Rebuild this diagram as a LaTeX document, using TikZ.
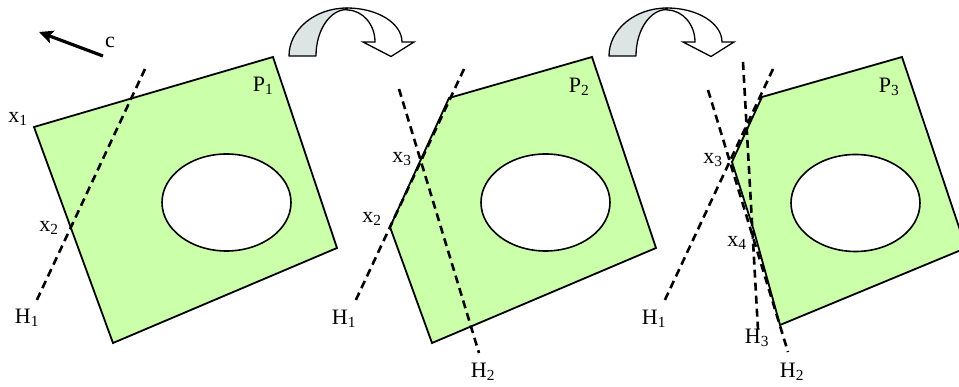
\documentclass[tikz,border=0pt]{standalone}
\usepackage{fontspec}
\setmainfont{Liberation Serif}
\usetikzlibrary{arrows.meta}
\definecolor{polyfill}{RGB}{204,255,170}
\definecolor{arrowgray}{RGB}{221,228,228}
\tikzset{
  poly/.style={draw=black, fill=polyfill, line width=1.8pt, line join=miter},
  hole/.style={draw=black, fill=white, line width=1.6pt},
  hyper/.style={draw=black, line width=2.6pt, dash pattern=on 8pt off 5pt},
  lbl/.style={inner sep=0pt, font=\fontsize{22}{24}\selectfont},
  bandback/.style={draw=black, fill=arrowgray, line width=1.3pt, line join=round},
  bandfront/.style={draw=black, fill=white, line width=1.3pt, line join=miter},
}
\begin{document}
\begin{tikzpicture}[x=1pt,y=-1pt]
\useasboundingbox (0,0) rectangle (959,387);

% curved arrows
\foreach \dx in {0,320}{
  \begin{scope}[xshift=\dx]
    \path[bandback] (289,56) arc[start angle=180,end angle=270,x radius=58,y radius=48]
      -- (347,9.5) arc[start angle=270,end angle=180,x radius=31,y radius=46.5] -- cycle;
    \path[bandfront] (347,8) arc[start angle=270,end angle=360,x radius=55,y radius=34]
      -- (414,42) -- (391,56.5) -- (363,42) -- (375,42)
      arc[start angle=360,end angle=270,x radius=28,y radius=32] -- cycle;
  \end{scope}
}

% objective direction c
\coordinate (ctail) at (103,56);
\coordinate (ctip) at (39,32);
\draw[line width=3.2pt, -{Stealth[length=14pt,width=13pt,inset=3pt]}] (ctail) -- (ctip);
\node[lbl] (lc) at (110,42) {c};

% ---------- P1 ----------
\path[poly] (34,127) -- (273,57) -- (337,248) -- (113,343) -- cycle;
\path[hole] (226.5,202.5) ellipse[x radius=64.5, y radius=48.5];
\coordinate (h1a) at (145,69); \coordinate (h1b) at (35,304);
\draw[hyper] (h1a) -- (h1b);
\node[lbl] (lx1) at (18,119) {x\textsubscript{1}};
\node[lbl] (lx2a) at (49,228) {x\textsubscript{2}};
\node[lbl] (lh1a) at (27,318) {H\textsubscript{1}};
\node[lbl] (lp1) at (263,86) {P\textsubscript{1}};

% ---------- P2 ----------
\path[poly] (390,227) -- (449,98) -- (592,57) -- (656,248) -- (432,343) -- cycle;
\path[hole] (545.5,202.5) ellipse[x radius=64.5, y radius=48.5];
\coordinate (h1c) at (464,69); \coordinate (h1d) at (354,304);
\coordinate (h2a) at (399,89); \coordinate (h2b) at (479,353);
\draw[hyper] (h1c) -- (h1d);
\draw[hyper] (h2a) -- (h2b);
\node[lbl] (lx3b) at (402,159) {x\textsubscript{3}};
\node[lbl] (lx2b) at (372,219) {x\textsubscript{2}};
\node[lbl] (lh1b) at (344,319) {H\textsubscript{1}};
\node[lbl] (lh2b) at (483,372) {H\textsubscript{2}};
\node[lbl] (lp2) at (579,87) {P\textsubscript{2}};

% ---------- P3 ----------
\path[poly] (732,162) -- (762,97) -- (902,57) -- (966,248) -- (780,325) -- (754,231) -- cycle;
\path[hole] (855.5,203) ellipse[x radius=64.5, y radius=48.5];
\coordinate (h1e) at (773,69); \coordinate (h1f) at (663,304);
\coordinate (h2c) at (708,90); \coordinate (h2d) at (788,352);
\coordinate (h3a) at (743,62); \coordinate (h3b) at (758,330);
\draw[hyper] (h1e) -- (h1f);
\draw[hyper] (h2c) -- (h2d);
\draw[hyper] (h3a) -- (h3b);
\node[lbl] (lx3c) at (713,160) {x\textsubscript{3}};
\node[lbl] (lx4) at (737,243) {x\textsubscript{4}};
\node[lbl] (lh1c) at (654,319) {H\textsubscript{1}};
\node[lbl] (lh3) at (757,338) {H\textsubscript{3}};
\node[lbl] (lh2c) at (792,372) {H\textsubscript{2}};
\node[lbl] (lp3) at (889,87) {P\textsubscript{3}};
\end{tikzpicture}
\end{document}
